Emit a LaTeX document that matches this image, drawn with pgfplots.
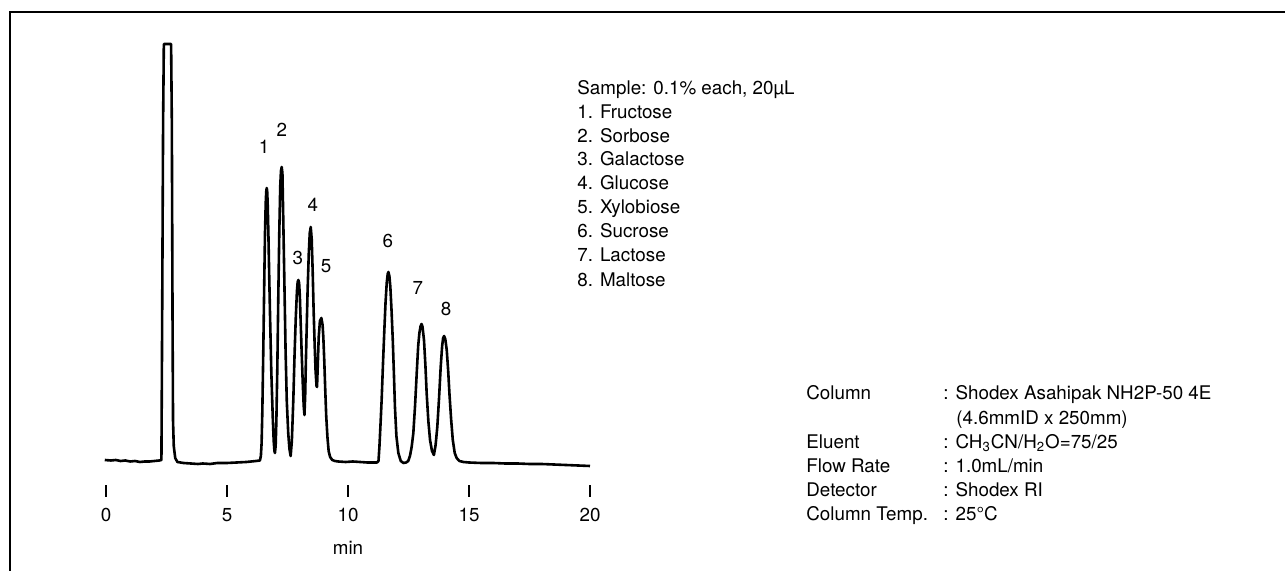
\documentclass[border=0pt]{standalone}
\usepackage{pgfplots}
\pgfplotsset{compat=1.18}
\usepackage{fontspec}
\setmainfont{TeX Gyre Heros}

\begin{document}
\fontsize{9.4}{11}\selectfont
\begin{tikzpicture}
% picture units: 1 px of the reference = 0.5pt
\begin{scope}[x=0.5pt,y=0.5pt]
  \useasboundingbox (0,0) rectangle (1285,571);
  \draw[line width=1pt] (10,0) -- (10,559) -- (1285,559);
\end{scope}

\begin{axis}[
    at={(53pt,40pt)}, anchor=south west,
    x=12.1pt, y=0.5pt,
    xmin=0, xmax=20, ymin=80, ymax=541,
    axis x line*=bottom, axis y line=none,
    axis line style={draw=none},
    xtick={0,5,10,15,20},
    tick align=center, major tick length=6pt,
    tick style={line width=0.7pt, black},
    xticklabel style={anchor=center, yshift=-9pt},
    /pgf/number format/assume math mode=true,
    clip=false,
]
\addplot[black, line width=1.3pt, line join=round] coordinates {
 (-0.05,111) (0.2,110.5) (0.4,111) (0.6,110) (0.8,110.5) (1.0,109.5) (1.2,110)
 (1.4,109) (1.6,109.5) (1.8,109.5) (2.0,110) (2.2,110.5) (2.29,111)
 (2.31,200) (2.36,450) (2.39,527) (2.69,527) (2.72,450) (2.75,250) (2.77,150)
 (2.80,125) (2.86,113) (2.95,109) (3.2,108) (3.5,107.5) (3.8,107) (4.0,107.5)
 (4.3,107) (4.6,108) (5.0,108) (5.4,108.5) (5.8,109) (6.0,109.5) (6.2,110) (6.36,110.5)
 (6.40,115) (6.43,128) (6.46,160) (6.50,221) (6.54,290) (6.57,338) (6.60,368)
 (6.62,379) (6.64,383) (6.66,380) (6.68,368) (6.71,338) (6.74,300) (6.78,254)
 (6.83,200) (6.89,154) (6.93,130) (6.96,120) (6.98,118)
 (7.01,125) (7.04,150) (7.08,204) (7.12,275) (7.16,338) (7.20,385) (7.23,400)
 (7.26,404) (7.29,398) (7.30,385) (7.33,345) (7.37,290) (7.42,221) (7.47,170)
 (7.53,138) (7.58,122) (7.63,115)
 (7.68,130) (7.74,171) (7.79,215) (7.84,252) (7.89,280) (7.92,289) (7.95,291)
 (7.98,288) (8.01,275) (8.04,252) (8.09,215) (8.13,188) (8.17,165) (8.20,156)
 (8.23,175) (8.26,210) (8.29,240) (8.33,280) (8.38,318) (8.42,338) (8.46,344)
 (8.50,332) (8.54,300) (8.58,260) (8.62,228) (8.66,200) (8.70,185) (8.72,184)
 (8.75,205) (8.79,234) (8.84,250) (8.90,253) (8.95,246) (8.98,234) (9.02,210)
 (9.06,181) (9.10,155) (9.15,134) (9.20,120) (9.26,114) (9.35,111) (9.46,110)
 (9.6,109.5) (9.9,109) (10.2,109.5) (10.5,109) (10.8,108.5) (11.0,108.5) (11.2,108.5)
 (11.26,110) (11.30,125) (11.35,150) (11.39,171) (11.45,210) (11.50,240) (11.55,268)
 (11.60,288) (11.64,297) (11.67,299) (11.71,295) (11.75,284) (11.80,260) (11.85,231)
 (11.90,195) (11.94,164) (12.00,135) (12.08,118) (12.18,110) (12.29,108) (12.40,108.5)
 (12.49,110)
 (12.56,115) (12.63,124) (12.70,138) (12.77,165) (12.84,198) (12.90,225) (12.95,238)
 (13.00,245) (13.04,247) (13.08,244) (13.14,231) (13.20,205) (13.25,178) (13.32,150)
 (13.39,131) (13.47,120) (13.55,116)
 (13.62,126) (13.69,144) (13.76,172) (13.83,204) (13.89,225) (13.93,233) (13.97,235)
 (14.02,232) (14.08,221) (14.14,200) (14.19,178) (14.26,152) (14.33,131) (14.41,118)
 (14.49,113) (14.6,110) (14.77,109)
 (15.0,108.5) (15.5,108) (16.0,108) (16.5,107.5) (17.0,107.5) (17.5,107) (18.0,107)
 (18.5,106.5) (19.0,106) (19.5,105.5) (20.0,105)
};
% peak numbers
\node at (axis cs:6.53,424) {1};
\node at (axis cs:7.27,441) {2};
\node at (axis cs:7.93,313) {3};
\node at (axis cs:8.55,366) {4};
\node at (axis cs:9.09,305) {5};
\node at (axis cs:11.65,330) {6};
\node at (axis cs:12.89,283) {7};
\node at (axis cs:14.05,262) {8};
\end{axis}

\begin{scope}[x=0.5pt,y=0.5pt, every node/.style={anchor=base west, inner sep=0pt}]
  \node[anchor=center, inner sep=2pt] at (348,23) {min};
  % sample list
  \node at (577,476.5) {Sample: 0.1\% each, 20µL};
  \node at (577,452.5) {1. Fructose};
  \node at (577,428.5) {2. Sorbose};
  \node at (577,405.5) {3. Galactose};
  \node at (577,381.5) {4. Glucose};
  \node at (577,357.5) {5. Xylobiose};
  \node at (577,333.5) {6. Sucrose};
  \node at (577,309.5) {7. Lactose};
  \node at (577,284.5) {8. Maltose};
  % conditions
  \node at (806,171.5) {Column};
  \node at (806,122.5) {Eluent};
  \node at (806,98.5) {Flow Rate};
  \node at (806,74.5) {Detector};
  \node at (806,50.5) {Column Temp.};
  \node at (943,171.5) {: Shodex Asahipak NH2P-50 4E};
  \node at (956,146.5) {(4.6mmID x 250mm)};
  \node at (943,122.5) {: CH\textsubscript{3}CN/H\textsubscript{2}O=75/25};
  \node at (943,98.5) {: 1.0mL/min};
  \node at (943,74.5) {: Shodex RI};
  \node at (943,50.5) {: 25°C};
\end{scope}
\end{tikzpicture}
\end{document}
